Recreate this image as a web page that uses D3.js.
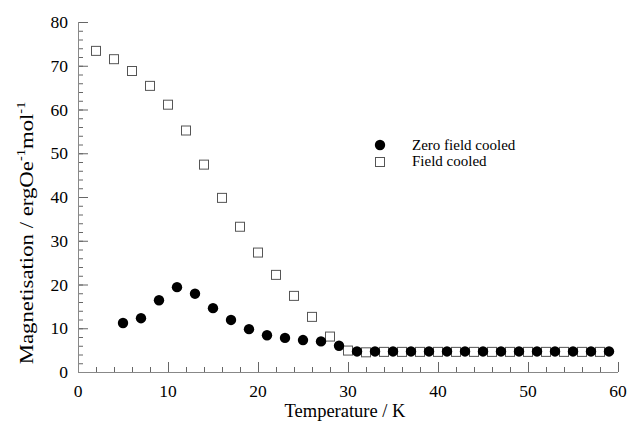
<!DOCTYPE html>
<html><head><meta charset="utf-8">
<script src="https://cdn.jsdelivr.net/npm/d3@7"></script>
<style>body{margin:0;background:#fff}svg{display:block}text{font-family:"Liberation Serif","Times New Roman",serif}</style>
</head><body>
<svg id="c" width="630" height="425"></svg>
<script>
const zfcT = [5,7,9,11,13,15,17,19,21,23,25,27,29,31,33,35,37,39,41,43,45,47,49,51,53,55,57,59];
const zfcM = [11.2,12.3,16.4,19.4,17.9,14.6,11.9,9.8,8.4,7.8,7.3,7.0,6.0,4.7,4.7,4.7,4.7,4.7,4.7,4.7,4.7,4.7,4.7,4.7,4.7,4.7,4.7,4.7];
const fcT = [2,4,6,8,10,12,14,16,18,20,22,24,26,28,30,32,34,36,38,40,42,44,46,48,50,52,54,56,58];
const fcM = [73.4,71.5,68.8,65.4,61.1,55.2,47.4,39.8,33.2,27.3,22.2,17.4,12.6,8.1,4.9,4.5,4.6,4.6,4.6,4.6,4.6,4.6,4.6,4.6,4.6,4.6,4.6,4.6,4.6];
const xTicks = [0,10,20,30,40,50,60];
const yTicks = [0,10,20,30,40,50,60,70,80];
const legendLabels = ["Zero field cooled","Field cooled"];

const svg = d3.select("#c");
const x = d3.scaleLinear().domain([0,60]).range([78,618]);
const y = d3.scaleLinear().domain([0,80]).range([372,22]);
const axisColor = "#888";

// minor and major ticks
const xMinor = d3.range(0,61,2);
const yMinor = d3.range(0,81,2);
svg.append("g").attr("transform","translate(0,372)")
  .call(d3.axisTop(x).tickValues(xMinor).tickSize(5).tickFormat(""));
svg.append("g").attr("transform","translate(0,372)")
  .call(d3.axisTop(x).tickValues(xTicks).tickSize(10).tickFormat(""));
svg.append("g").attr("transform","translate(78,0)")
  .call(d3.axisRight(y).tickValues(yMinor).tickSize(5).tickFormat(""));
svg.append("g").attr("transform","translate(78,0)")
  .call(d3.axisRight(y).tickValues(yTicks).tickSize(10).tickFormat(""));
svg.selectAll(".tick line").attr("stroke","#666");
svg.selectAll(".domain").remove();
svg.append("line").attr("x1",x(0)).attr("x2",x(60)).attr("y1",y(0)+0.5).attr("y2",y(0)+0.5).attr("stroke",axisColor);
svg.append("line").attr("x1",x(0)+0.5).attr("x2",x(0)+0.5).attr("y1",y(0)).attr("y2",y(80)).attr("stroke",axisColor);

// tick labels
svg.append("g").selectAll("text").data(xTicks).join("text")
  .attr("x",d=>x(d)).attr("y",397).attr("text-anchor","middle")
  .attr("font-size",17.5).text(d=>d);
svg.append("g").selectAll("text").data(yTicks).join("text")
  .attr("x",68).attr("y",d=>y(d)+6).attr("text-anchor","end")
  .attr("font-size",17.5).text(d=>d);

// axis titles
svg.append("text").attr("x",345).attr("y",417).attr("text-anchor","middle")
  .attr("font-size",18.5).text("Temperature / K");
const yl = svg.append("text").attr("transform","translate(33,233) rotate(-90) scale(1.2,1)")
  .attr("text-anchor","middle").attr("font-size",19);
yl.append("tspan").text("Magnetisation / ergOe");
yl.append("tspan").attr("dy",-8).attr("font-size",12).text("-1");
yl.append("tspan").attr("dy",8).text("mol");
yl.append("tspan").attr("dy",-8).attr("font-size",12).text("-1");

// data
const fc = fcT.map((t,i)=>({t, m: fcM[i]}));
const zfc = zfcT.map((t,i)=>({t, m: zfcM[i]}));
const s = 9;
svg.append("g").selectAll("rect").data(fc).join("rect")
  .attr("x",d=>x(d.t)-s/2).attr("y",d=>y(d.m)-s/2).attr("width",s).attr("height",s)
  .attr("fill","#fff").attr("stroke","#555").attr("stroke-width",1);
svg.append("g").selectAll("circle").data(zfc).join("circle")
  .attr("cx",d=>x(d.t)).attr("cy",d=>y(d.m)).attr("r",5.2).attr("fill","#000");

// legend
const lg = svg.append("g");
lg.append("circle").attr("cx",380).attr("cy",145).attr("r",5.2).attr("fill","#000");
lg.append("rect").attr("x",380-s/2).attr("y",162-s/2).attr("width",s).attr("height",s)
  .attr("fill","#fff").attr("stroke","#555");
lg.selectAll("text").data(legendLabels).join("text")
  .attr("x",412).attr("y",(d,i)=>150+i*16).attr("font-size",15).text(d=>d);
</script>
</body></html>
